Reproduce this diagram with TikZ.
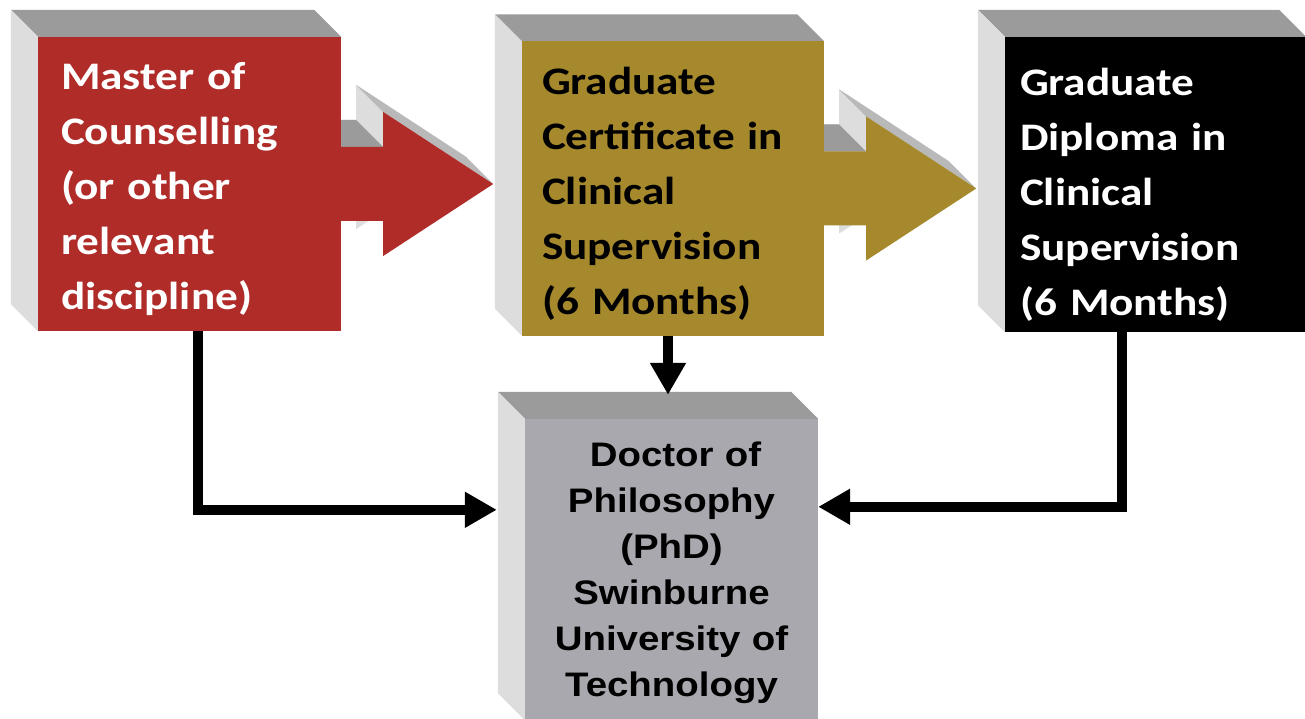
\documentclass[tikz,border=0pt]{standalone}
\usepackage{fontspec}
\usepackage{tikz}
\usetikzlibrary{arrows.meta, positioning, calc, backgrounds}
\newfontfamily\slidefont{Carlito}[FakeStretch=1.16]
\newfontfamily\phdfont{Liberation Sans}[FakeStretch=1.13]
\definecolor{masterred}{RGB}{176,44,41}
\definecolor{certgold}{RGB}{165,137,44}
\definecolor{phdgray}{RGB}{169,168,174}
\definecolor{bevtopgray}{RGB}{155,155,155}
\definecolor{bevmidgray}{RGB}{185,185,185}
\definecolor{bevsidegray}{RGB}{221,221,221}
\tikzset{
	face/.style={rectangle, inner xsep=20pt, inner ysep=0pt, text width=262pt, align=left, minimum height=294pt, font=\slidefont\bfseries\fontsize{39}{55}\selectfont},
	phdface/.style={rectangle, inner sep=0pt, text width=293pt, align=center, minimum height=301pt, font=\phdfont\bfseries\fontsize{34}{46}\selectfont},
	link/.style={draw, line width=10pt, -{Triangle[length=32pt, width=34pt]}}
}
% bevel on the top and left of a box
\newcommand{\boxbevel}[1]{%
	\fill[bevtopgray] ([shift={(-27,-27)}]#1.north west) -- ([shift={(-27,-27)}]#1.north east) -- (#1.north east) -- (#1.north west) -- cycle;
	\fill[bevsidegray] ([shift={(-27,-27)}]#1.north west) -- (#1.north west) -- (#1.south west) -- ([shift={(-27,-27)}]#1.south west) -- cycle;
}
% block arrow leaving the east side of a box
\newcommand{\blockarrow}[2]{%
	\begin{scope}[shift={(#1.east)}]
		\fill[bevsidegray] (-27,-64) -- (15,-64) -- (15,-99) -- (125,-27) -- (15,45) -- (15,10) -- (-27,10) -- cycle;
		\fill[bevmidgray] (42,-72) -- (152,0) -- (125,-27) -- (15,-99) -- cycle;
		\fill[bevtopgray] (0,-37) -- (42,-37) -- (15,-64) -- (-27,-64) -- cycle;
		\fill[#2] (0,-37) -- (42,-37) -- (42,-72) -- (152,0) -- (42,72) -- (42,37) -- (0,37) -- cycle;
	\end{scope}
}
\begin{document}
\begin{tikzpicture}[x=1pt, y=-1pt]
	\useasboundingbox (0,0) rectangle (1305,719);
	
	% The three boxes on top
	\node[face, fill=masterred, text=white, inner xsep=23pt, text width=257pt, minimum width=303pt] (master) at (189.5,184) {\rule{0pt}{37pt}Master of\\Counselling\\(or other\\relevant\\discipline)};
	\node[face, fill=certgold, text=black, minimum width=302pt] (cert) at (673,188.5) {\rule{0pt}{37pt}Graduate\\Certificate in\\Clinical\\Supervision\\(6 Months)};
	\node[face, fill=black, text=white, inner xsep=15pt, text width=271pt, minimum width=301pt, minimum height=295pt] (diploma) at (1155.5,184.5) {\rule{0pt}{47pt}Graduate\\Diploma in\\Clinical\\Supervision\\(6 Months)};
	
	% The PhD box below
	\node[phdface, fill=phdgray, minimum width=293pt] (phd) at (671.5,569.5) {\rule{0pt}{31pt}\hspace*{8pt}Doctor of\\Philosophy\\(PhD)\\Swinburne\\University of\\Technology};
	
	% Bevels and block arrows behind the boxes
	\begin{pgfonlayer}{background}
		\fill[white] (0,0) rectangle (1305,719);
		\blockarrow{master}{masterred}
		\blockarrow{cert}{certgold}
		\boxbevel{master}
		\boxbevel{cert}
		\boxbevel{diploma}
		\boxbevel{phd}
	\end{pgfonlayer}
	
	% Connectors to the PhD box
	\path[link] ([xshift=8.5pt]master.south) |- ([xshift=-28pt,yshift=-91pt]phd.north west);
	\path[link] ([xshift=-5pt]cert.south) -- ([xshift=-3.5pt,yshift=24pt]phd.north);
	\path[link] ([xshift=-33.5pt]diploma.south) |- ([yshift=-88pt]phd.north east);
\end{tikzpicture}
\end{document}
